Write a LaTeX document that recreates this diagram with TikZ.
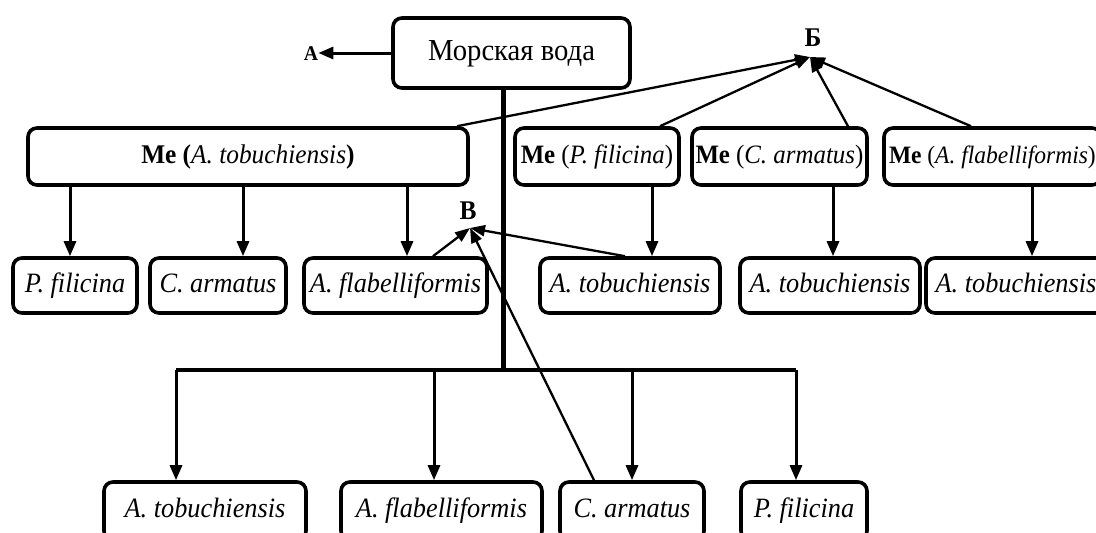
\documentclass[tikz,border=0pt]{standalone}
\usepackage{fontspec}
\setmainfont{Liberation Serif}[FakeStretch=0.94]
\usetikzlibrary{arrows.meta}

\tikzset{
  box/.style={draw, line width=3.6pt, rounded corners=9pt, inner sep=0pt, text height=18pt, text depth=5pt, font=\fontsize{28}{33}\selectfont},
  mebox/.style={box, minimum height=57pt, font=\fontsize{26.5}{31}\selectfont},
  sbox/.style={box, minimum height=55pt},
  lowbox/.style={box, minimum height=58pt},
  down/.style={line width=3pt, -{Triangle[length=15pt,width=12pt]}},
  tie/.style={line width=2.3pt, -{Triangle[length=15pt,width=11pt]}},
  trunk/.style={line width=5pt},
  lab/.style={font=\fontsize{27}{32}\selectfont\bfseries, inner sep=0pt},
}

\begin{document}
\begin{tikzpicture}[x=1pt,y=-1pt]
    \useasboundingbox (0,0) rectangle (1096,533);

    % source
    \node[box, minimum width=237pt, minimum height=70pt, text height=20pt, text depth=6pt, font=\fontsize{30.5}{36}\selectfont] (sea) at (511.5,53) {Морская вода};
    \node[lab, font=\fontsize{21}{25}\selectfont\bfseries] (a) at (311,54) {А};
    \node[lab] (b) at (813,38) {Б};
    \node[lab] (v) at (468,211) {В};
    \coordinate (btip) at (810,57);
    \coordinate (vtip) at (470,228);
    \coordinate (hub) at (503,370);

    % metabolite boxes
    \node[mebox, minimum width=440pt, font=\fontsize{27}{32}\selectfont] (meAt) at (248,156.5) {\textbf{Ме (}\textit{A. tobuchiensis}\textbf{)}};
    \node[mebox, minimum width=164pt] (mePf) at (597,156.5) {\textbf{Ме} (\textit{P. filicina})};
    \node[mebox, minimum width=175pt] (meCa) at (779.5,156.5) {\textbf{Ме} (\textit{C. armatus})};
    \node[mebox, minimum width=217pt, font=\fontsize{25}{30}\selectfont] (meAf) at (992.5,156.5) {\textbf{Ме} (\textit{A. flabelliformis})};

    % second row
    \node[sbox, minimum width=124pt] (pf1) at (75,285.5) {\textit{P. filicina}};
    \node[sbox, minimum width=136pt] (ca1) at (218,285.5) {\textit{C. armatus}};
    \node[sbox, minimum width=183pt] (af1) at (395.5,285.5) {\textit{A. flabelliformis}};
    \node[sbox, minimum width=180pt] (at1) at (630,285.5) {\textit{A. tobuchiensis}};
    \node[sbox, minimum width=180pt] (at2) at (830,285.5) {\textit{A. tobuchiensis}};
    \node[sbox, minimum width=180pt] (at3) at (1016,285.5) {\textit{A. tobuchiensis}};

    % bottom row
    \node[lowbox, minimum width=202pt] (at4) at (205,511) {\textit{A. tobuchiensis}};
    \node[lowbox, minimum width=201pt] (af4) at (441.5,511) {\textit{A. flabelliformis}};
    \node[lowbox, minimum width=144pt] (ca4) at (632,511) {\textit{C. armatus}};
    \node[lowbox, minimum width=126pt] (pf4) at (804,511) {\textit{P. filicina}};

    % arrow feet
    \coordinate (d1) at ([xshift=-5pt]pf1.north);
    \coordinate (d2) at ([xshift=25pt]ca1.north);
    \coordinate (d3) at ([xshift=11.5pt]af1.north);
    \coordinate (d4) at ([xshift=22pt]at1.north);
    \coordinate (d5) at ([xshift=3pt]at2.north);
    \coordinate (d6) at ([xshift=16pt]at3.north);
    \coordinate (e1) at ([xshift=-29pt]at4.north);
    \coordinate (e2) at ([xshift=-7.5pt]af4.north);
    \coordinate (e3) at (ca4.north);
    \coordinate (e4) at ([xshift=-8pt]pf4.north);

    \draw[down] (sea.west) -- (sea.west -| a.east);
    \draw[trunk] ([xshift=-8.5pt]sea.south) -- (hub);
    \draw[trunk, line width=4pt] (e1 |- hub) -- (e4 |- hub);
    \foreach \e in {e1,e2,e3,e4}
        \draw[down] (\e |- hub) -- (\e);

    \foreach \d in {d1,d2,d3}
        \draw[down] (\d |- meAt.south) -- (\d);
    \draw[down] (d4 |- mePf.south) -- (d4);
    \draw[down] (d5 |- meCa.south) -- (d5);
    \draw[down] (d6 |- meAf.south) -- (d6);

    % to B
    \draw[tie] ([xshift=209pt]meAt.north) -- (btip);
    \draw[tie] ([xshift=63pt]mePf.north) -- (btip);
    \draw[tie] ([xshift=68.5pt]meCa.north) -- (btip);
    \draw[tie] ([xshift=-21.5pt]meAf.north) -- (btip);

    % to V
    \draw[tie] ([xshift=37.5pt]af1.north) -- (vtip);
    \draw[tie] ([xshift=-5pt]at1.north) -- (vtip);
    \draw[tie] ([xshift=-38pt]ca4.north) -- (vtip);
\end{tikzpicture}
\end{document}
